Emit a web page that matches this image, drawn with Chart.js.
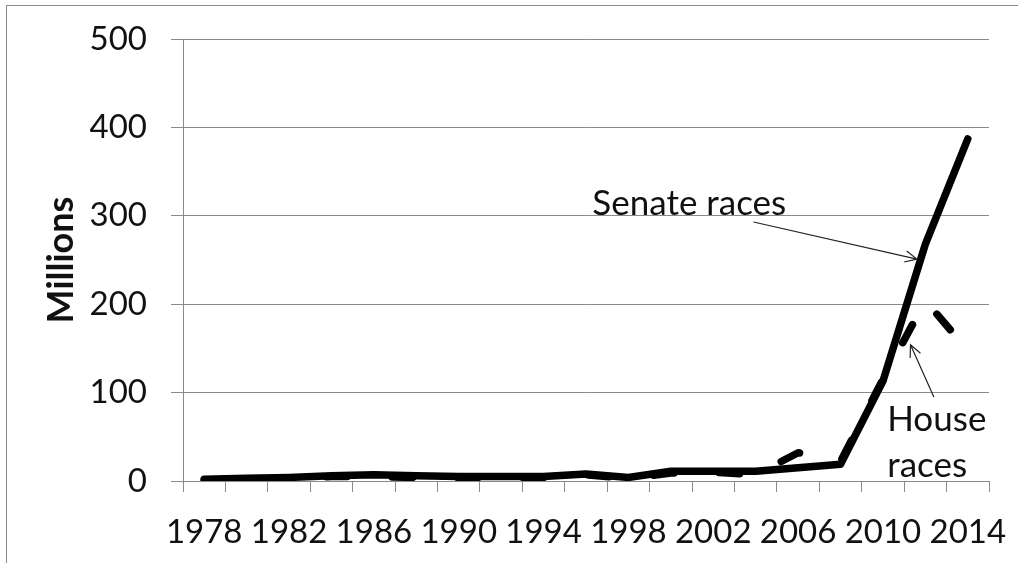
<!DOCTYPE html>
<html>
<head>
<meta charset="utf-8">
<script src="https://cdn.jsdelivr.net/npm/chart.js@4/dist/chart.umd.min.js"></script>
<style>
  html, body { margin: 0; padding: 0; background: #fff; overflow: hidden; }
  #wrap { position: relative; width: 1018px; height: 563px; }
  #frame { position: absolute; left: 6px; top: 5px; width: 1100px; height: 700px; border: 1px solid #8c8c8c; }
  canvas { position: absolute; left: 0; top: 0; }
</style>
</head>
<body>
<div id="wrap">
  <div id="frame"></div>
  <canvas id="chart" width="1018" height="563"></canvas>
</div>
<script>
// 데이터
const years  = ['1978','1980','1982','1984','1986','1988','1990','1992','1994','1996',
                '1998','2000','2002','2004','2006','2008','2010','2012','2014'];
const senate = [2, 3, 4, 6, 7, 6, 5, 5, 5, 8, 4, 11, 11, 11, 15, 19, 113, 268, 387];
const house  = [1, 2, 3, 5, 5, 4, 4, 4, 4, 7, 3, 9, 10, 7, 32, 22, 115, 204, 148];
const yTicks = [0, 100, 200, 300, 400, 500];

const FONT = "Lato, 'Open Sans', sans-serif";
const GRID = '#8a8a8a';

// year -> category index
const yi = y => (y - 1978) / 2;

// 주석 (화살표 + 라벨)
const notes = {
  id: 'notes',
  afterDatasetsDraw(chart) {
    const { ctx, scales: { x, y } } = chart;
    const px = yr => x.getPixelForValue(yi(yr));
    const py = v => y.getPixelForValue(v);

    ctx.save();
    ctx.fillStyle = '#111';
    ctx.font = '35px ' + FONT;
    ctx.textAlign = 'left';
    ctx.textBaseline = 'alphabetic';
    ctx.fillText('Senate races', px(1996.3), py(301));
    ctx.fillText('House', px(2010.2), py(57));
    ctx.fillText('races', px(2010.2), py(4));

    arrow(ctx, px(2003.9), py(293), px(2011.6), py(251));
    arrow(ctx, px(2012.4), py(95), px(2011.3), py(154));
    ctx.restore();
  }
};

function arrow(ctx, x1, y1, x2, y2) {
  const a = Math.atan2(y2 - y1, x2 - x1);
  const len = 13, spread = 0.45;
  ctx.strokeStyle = '#222';
  ctx.lineWidth = 1.2;
  ctx.beginPath();
  ctx.moveTo(x1, y1);
  ctx.lineTo(x2, y2);
  ctx.moveTo(x2 - len * Math.cos(a - spread), y2 - len * Math.sin(a - spread));
  ctx.lineTo(x2, y2);
  ctx.lineTo(x2 - len * Math.cos(a + spread), y2 - len * Math.sin(a + spread));
  ctx.stroke();
}

new Chart(document.getElementById('chart'), {
  type: 'line',
  data: {
    labels: years,
    datasets: [
      {
        label: 'Senate races',
        data: senate,
        borderColor: '#000',
        borderWidth: 7.5,
        borderCapStyle: 'round',
        borderJoinStyle: 'round',
        pointRadius: 0,
        tension: 0,
      },
      {
        label: 'House races',
        data: house,
        borderColor: '#000',
        borderWidth: 7.5,
        borderCapStyle: 'round',
        borderJoinStyle: 'round',
        borderDash: [20.5, 45],
        borderDashOffset: 8.5,
        pointRadius: 0,
        tension: 0,
      }
    ]
  },
  options: {
    responsive: false,
    animation: false,
    devicePixelRatio: 1,
    layout: { padding: { top: 39, right: 29, bottom: 0, left: 0 } },
    plugins: { legend: { display: false }, tooltip: { enabled: false } },
    scales: {
      x: {
        type: 'category',
        offset: true,
        grid: { offset: true, drawOnChartArea: false, drawTicks: true, tickLength: 11, color: GRID, lineWidth: 1 },
        border: { color: GRID, width: 1 },
        ticks: {
          autoSkip: false, maxRotation: 0, minRotation: 0, padding: 21,
          color: '#111', font: { family: FONT, size: 33 },
          callback: (v, i) => i % 2 === 0 ? years[i] : ''
        },
        afterFit: s => { s.height = 82; s.paddingLeft = 0; s.paddingRight = 0; }
      },
      y: {
        min: 0, max: 500,
        afterBuildTicks: s => { s.ticks = yTicks.map(v => ({ value: v })); },
        grid: { color: GRID, lineWidth: 1, drawTicks: true, tickLength: 12 },
        border: { color: GRID, width: 1 },
        ticks: { padding: 24, color: '#111', font: { family: FONT, size: 33 } },
        title: {
          display: true, text: 'Millions', color: '#111',
          font: { family: FONT, size: 36, weight: 'bold' },
          padding: { top: 40, bottom: 0 }
        },
        afterFit: s => { s.width = 183; s.paddingTop = 0; s.paddingBottom = 0; }
      }
    }
  },
  plugins: [notes]
});
</script>
</body>
</html>
